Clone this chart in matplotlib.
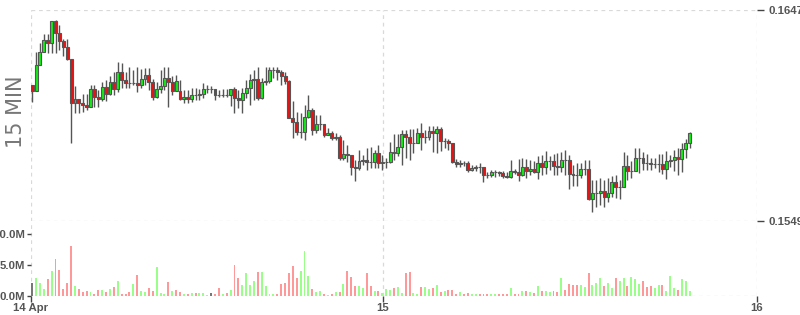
import numpy as np
import matplotlib.pyplot as plt

# 15 minute candles, 14 Apr .. 15 Apr
opens = [
    0.16121, 0.16093, 0.16214, 0.16274, 0.16330, 0.16316, 0.16418, 0.16363, 0.16326, 0.16298,
    0.16242, 0.16038, 0.16056, 0.16038, 0.16028, 0.16019, 0.16103, 0.16065, 0.16056, 0.16112,
    0.16079, 0.16135, 0.16103, 0.16182, 0.16144, 0.16130, 0.16130, 0.16130, 0.16121, 0.16149,
    0.16168, 0.16135, 0.16065, 0.16103, 0.16117, 0.16154, 0.16135, 0.16093, 0.16093, 0.16056,
    0.16065, 0.16056, 0.16075, 0.16075, 0.16079, 0.16103, 0.16103, 0.16103, 0.16075, 0.16075,
    0.16075, 0.16075, 0.16103, 0.16061, 0.16052, 0.16084, 0.16107, 0.16144, 0.16149, 0.16061,
    0.16135, 0.16140, 0.16191, 0.16191, 0.16182, 0.16163, 0.16140, 0.15968, 0.15949, 0.15903,
    0.15903, 0.15973, 0.16005, 0.15912, 0.15940, 0.15940, 0.15889, 0.15898, 0.15875, 0.15880,
    0.15782, 0.15801, 0.15796, 0.15740, 0.15736, 0.15768, 0.15773, 0.15764, 0.15764, 0.15805,
    0.15759, 0.15764, 0.15764, 0.15810, 0.15805, 0.15833, 0.15894, 0.15880, 0.15852, 0.15852,
    0.15898, 0.15880, 0.15880, 0.15908, 0.15898, 0.15917, 0.15861, 0.15861, 0.15852, 0.15764,
    0.15754, 0.15759, 0.15759, 0.15726, 0.15736, 0.15740, 0.15740, 0.15703, 0.15703, 0.15717,
    0.15717, 0.15712, 0.15699, 0.15694, 0.15722, 0.15717, 0.15703, 0.15740, 0.15722, 0.15731,
    0.15717, 0.15759, 0.15740, 0.15768, 0.15768, 0.15745, 0.15740, 0.15773, 0.15773, 0.15708,
    0.15703, 0.15703, 0.15731, 0.15731, 0.15592, 0.15620, 0.15620, 0.15629, 0.15601, 0.15620,
    0.15671, 0.15647, 0.15647, 0.15745, 0.15722, 0.15722, 0.15782, 0.15782, 0.15759, 0.15759,
    0.15754, 0.15754, 0.15754, 0.15731, 0.15768, 0.15773, 0.15787, 0.15778, 0.15824, 0.15852,
]
closes = [
    0.16093, 0.16214, 0.16274, 0.16330, 0.16316, 0.16418, 0.16363, 0.16326, 0.16298, 0.16242,
    0.16038, 0.16056, 0.16038, 0.16028, 0.16019, 0.16103, 0.16065, 0.16056, 0.16112, 0.16079,
    0.16135, 0.16103, 0.16182, 0.16144, 0.16130, 0.16130, 0.16130, 0.16121, 0.16149, 0.16168,
    0.16135, 0.16065, 0.16103, 0.16117, 0.16154, 0.16135, 0.16093, 0.16140, 0.16056, 0.16065,
    0.16056, 0.16075, 0.16075, 0.16079, 0.16103, 0.16103, 0.16103, 0.16075, 0.16075, 0.16075,
    0.16075, 0.16103, 0.16061, 0.16052, 0.16084, 0.16107, 0.16144, 0.16149, 0.16061, 0.16135,
    0.16140, 0.16191, 0.16191, 0.16182, 0.16163, 0.16140, 0.15968, 0.15949, 0.15903, 0.15903,
    0.15973, 0.16005, 0.15912, 0.15940, 0.15940, 0.15889, 0.15898, 0.15875, 0.15880, 0.15782,
    0.15801, 0.15796, 0.15740, 0.15736, 0.15768, 0.15773, 0.15764, 0.15764, 0.15805, 0.15759,
    0.15764, 0.15764, 0.15810, 0.15805, 0.15833, 0.15894, 0.15880, 0.15852, 0.15852, 0.15898,
    0.15880, 0.15880, 0.15908, 0.15898, 0.15917, 0.15861, 0.15861, 0.15852, 0.15764, 0.15754,
    0.15759, 0.15759, 0.15726, 0.15736, 0.15740, 0.15740, 0.15703, 0.15703, 0.15717, 0.15717,
    0.15712, 0.15699, 0.15694, 0.15722, 0.15717, 0.15703, 0.15740, 0.15722, 0.15731, 0.15717,
    0.15759, 0.15740, 0.15768, 0.15768, 0.15745, 0.15740, 0.15773, 0.15773, 0.15708, 0.15703,
    0.15703, 0.15731, 0.15731, 0.15592, 0.15620, 0.15620, 0.15629, 0.15601, 0.15620, 0.15671,
    0.15647, 0.15647, 0.15745, 0.15722, 0.15722, 0.15782, 0.15782, 0.15759, 0.15759, 0.15754,
    0.15754, 0.15754, 0.15731, 0.15768, 0.15773, 0.15787, 0.15778, 0.15824, 0.15852, 0.15898,
]
highs = [
    0.16121, 0.16274, 0.16316, 0.16358, 0.16358, 0.16418, 0.16423, 0.16400, 0.16335, 0.16335,
    0.16242, 0.16117, 0.16056, 0.16079, 0.16079, 0.16121, 0.16121, 0.16098, 0.16135, 0.16144,
    0.16163, 0.16182, 0.16228, 0.16223, 0.16182, 0.16205, 0.16191, 0.16205, 0.16195, 0.16200,
    0.16200, 0.16149, 0.16135, 0.16191, 0.16205, 0.16205, 0.16163, 0.16168, 0.16144, 0.16098,
    0.16098, 0.16107, 0.16107, 0.16103, 0.16130, 0.16121, 0.16117, 0.16103, 0.16098, 0.16103,
    0.16103, 0.16103, 0.16112, 0.16098, 0.16107, 0.16144, 0.16172, 0.16191, 0.16205, 0.16154,
    0.16205, 0.16205, 0.16205, 0.16205, 0.16191, 0.16182, 0.16144, 0.16047, 0.15996, 0.15991,
    0.16028, 0.16075, 0.16014, 0.15982, 0.15982, 0.15940, 0.15922, 0.15908, 0.15898, 0.15889,
    0.15866, 0.15843, 0.15796, 0.15773, 0.15819, 0.15796, 0.15829, 0.15833, 0.15819, 0.15843,
    0.15796, 0.15782, 0.15856, 0.15894, 0.15894, 0.15912, 0.15912, 0.15917, 0.15917, 0.15922,
    0.15945, 0.15912, 0.15931, 0.15931, 0.15931, 0.15926, 0.15875, 0.15870, 0.15852, 0.15778,
    0.15773, 0.15768, 0.15768, 0.15750, 0.15750, 0.15759, 0.15740, 0.15717, 0.15726, 0.15726,
    0.15722, 0.15722, 0.15717, 0.15773, 0.15731, 0.15778, 0.15782, 0.15778, 0.15773, 0.15768,
    0.15791, 0.15796, 0.15815, 0.15791, 0.15801, 0.15805, 0.15810, 0.15819, 0.15796, 0.15750,
    0.15759, 0.15759, 0.15773, 0.15773, 0.15680, 0.15680, 0.15689, 0.15680, 0.15689, 0.15699,
    0.15703, 0.15680, 0.15810, 0.15796, 0.15768, 0.15829, 0.15829, 0.15810, 0.15801, 0.15782,
    0.15782, 0.15801, 0.15801, 0.15815, 0.15796, 0.15819, 0.15829, 0.15852, 0.15870, 0.15903,
]
lows = [
    0.16042, 0.16093, 0.16214, 0.16274, 0.16270, 0.16270, 0.16270, 0.16284, 0.16256, 0.16237,
    0.15852, 0.15991, 0.15991, 0.15996, 0.16005, 0.16019, 0.16019, 0.16019, 0.16047, 0.16047,
    0.16075, 0.16075, 0.16089, 0.16107, 0.16107, 0.16107, 0.16121, 0.16089, 0.16107, 0.16121,
    0.16098, 0.16052, 0.16061, 0.16084, 0.16098, 0.16019, 0.16075, 0.16093, 0.16052, 0.16038,
    0.16038, 0.16042, 0.16052, 0.16052, 0.16061, 0.16084, 0.16084, 0.16052, 0.16065, 0.16065,
    0.16065, 0.16024, 0.15991, 0.16014, 0.15991, 0.16061, 0.16028, 0.16052, 0.16052, 0.16056,
    0.16121, 0.16130, 0.16154, 0.16144, 0.16121, 0.16126, 0.15968, 0.15875, 0.15889, 0.15875,
    0.15866, 0.15968, 0.15889, 0.15898, 0.15912, 0.15880, 0.15889, 0.15866, 0.15866, 0.15773,
    0.15773, 0.15764, 0.15703, 0.15675, 0.15726, 0.15750, 0.15726, 0.15736, 0.15736, 0.15736,
    0.15726, 0.15736, 0.15759, 0.15773, 0.15791, 0.15750, 0.15782, 0.15773, 0.15805, 0.15852,
    0.15819, 0.15852, 0.15866, 0.15810, 0.15805, 0.15815, 0.15829, 0.15819, 0.15759, 0.15740,
    0.15740, 0.15745, 0.15717, 0.15722, 0.15722, 0.15712, 0.15671, 0.15689, 0.15694, 0.15694,
    0.15699, 0.15689, 0.15689, 0.15689, 0.15708, 0.15675, 0.15699, 0.15689, 0.15703, 0.15712,
    0.15685, 0.15703, 0.15708, 0.15726, 0.15703, 0.15703, 0.15717, 0.15703, 0.15638, 0.15652,
    0.15652, 0.15689, 0.15703, 0.15587, 0.15531, 0.15555, 0.15564, 0.15555, 0.15578, 0.15601,
    0.15596, 0.15592, 0.15647, 0.15680, 0.15689, 0.15722, 0.15712, 0.15726, 0.15726, 0.15726,
    0.15736, 0.15717, 0.15708, 0.15685, 0.15740, 0.15722, 0.15703, 0.15717, 0.15782, 0.15829,
]
# volume in millions, with the direction used to colour each bar
volumes = [
    2.1, 2.95, 2.15, 1.2, 2.7, 4.0, 6.0, 4.2, 1.2, 2.15,
    8.1, 1.6, 1.1, 0.7, 0.8, 0.7, 0.3, 1.0, 1.0, 0.7,
    1.1, 1.45, 2.4, 0.3, 0.3, 0.7, 2.0, 3.4, 0.85, 0.7,
    1.3, 0.8, 4.7, 0.5, 0.4, 2.25, 0.85, 1.0, 0.65, 0.3,
    0.3, 0.5, 0.5, 0.5, 0.5, 0.15, 0.5, 0.3, 1.3, 0.3,
    0.5, 1.0, 5.0, 2.9, 1.8, 3.7, 1.8, 2.4, 3.9, 3.9,
    1.6, 0.3, 0.3, 0.3, 1.9, 2.1, 3.7, 4.8, 2.9, 4.0,
    7.3, 3.2, 1.1, 0.65, 0.8, 0.3, 0.15, 0.3, 0.65, 0.65,
    1.9, 4.0, 3.1, 1.6, 1.6, 1.3, 3.7, 1.6, 0.8, 0.8,
    0.5, 1.1, 1.0, 1.3, 1.45, 0.5, 3.7, 3.9, 0.5, 0.3,
    1.45, 1.45, 1.1, 1.3, 1.8, 0.65, 0.8, 1.0, 1.0, 0.3,
    0.65, 0.3, 0.5, 0.3, 0.3, 0.3, 0.3, 0.3, 0.3, 0.3,
    0.3, 0.3, 0.3, 1.3, 0.3, 0.3, 0.8, 0.8, 0.65, 0.5,
    1.6, 0.8, 0.8, 0.65, 0.8, 0.65, 2.9, 1.0, 1.9, 1.8,
    1.8, 1.8, 1.45, 3.7, 1.8, 2.1, 2.9, 1.6, 2.1, 1.3,
    2.9, 2.4, 2.9, 1.6, 3.1, 2.7, 1.9, 2.4, 1.45, 1.6,
    1.3, 1.8, 1.8, 0.8, 3.2, 1.3, 1.0, 2.7, 2.4, 0.8,
]
vol_dir = ("ngggrgrrrr" "rgrrrgrrgr" "grgrrrgrgg" "rrgggrgrrg" "rgrgggnrrg"
           "rgrrggggrg" "gggrrrrrrg" "ggrggrgrgr" "grrrggrrgr" "gggrggrrgg"
           "rggrgrgrrr" "grrggrrrgg" "rrrgrrgrgr" "grggrrgrrr" "rggrgggrgg"
           "rggrgggrrr" "ggrgggrggg")

day_pos = [-0.3, 90.2, 186.3]
day_labels = ["14 Apr", "15", "16"]
price_ticks = [0.1549, 0.1647]
vol_ticks = [0, 5, 10]

o = np.array(opens)
c = np.array(closes)
x = np.arange(len(c))

lab_font = dict(family="Liberation Sans", weight="bold", size=8.2)

fig = plt.figure(figsize=(8, 3.15), dpi=100)
ax = fig.add_axes([31 / 800, 94 / 315, 726 / 800, 211 / 315])
axv = fig.add_axes([31 / 800, 19 / 315, 726 / 800, 75 / 315], sharex=ax)

grid_kw = dict(color="#d9d9d9", lw=0.9, ls=(0, (3, 3)), zorder=0)

# candles
ax.vlines(x, lows, highs, color="#555555", lw=1.0, zorder=1)
body_col = np.where(c > o, "#11ee11", "#ee1111")
ax.bar(x, np.abs(c - o), bottom=np.minimum(o, c), width=0.75,
       color=body_col, edgecolor="#555555", linewidth=0.8, zorder=2)

ax.set_xlim(-0.3, 186.3)
ax.set_ylim(price_ticks[0], price_ticks[1])
for d in day_pos:
    ax.axvline(d, **grid_kw)
ax.axhline(price_ticks[1], **grid_kw)
ax.axhline(price_ticks[0], **grid_kw)
for s in ax.spines.values():
    s.set_visible(False)
ax.yaxis.tick_right()
ax.set_yticks(price_ticks)
ax.set_yticklabels(["%.4f" % p for p in price_ticks], color="#555555", **lab_font)
ax.tick_params(axis="y", length=5, width=1, color="#444444", pad=3)
ax.tick_params(axis="x", bottom=False, labelbottom=False)

# volume
vcol = {"g": "#99ff88", "r": "#ff9999", "n": "#777777"}
axv.bar(x, volumes, width=0.5, color=[vcol[d] for d in vol_dir], zorder=2)
axv.set_ylim(0, 12.1)
for d in day_pos:
    axv.axvline(d, **grid_kw)
axv.axhline(0, **grid_kw)
for s in axv.spines.values():
    s.set_visible(False)
axv.set_yticks(vol_ticks)
axv.set_yticklabels(["%.1fM" % v for v in vol_ticks], color="#555555", **lab_font)
axv.tick_params(axis="y", length=3, width=1, color="#444444", pad=1)
axv.set_xticks(day_pos)
axv.set_xticklabels(day_labels, color="#555555", **lab_font)
axv.tick_params(axis="x", length=4, width=1, color="#444444", pad=1)

fig.text(16 / 800, 1 - 112 / 315, "15 MIN", rotation=90, fontsize=15,
         color="#777777", ha="center", va="center")

fig.savefig("out.png", dpi=100)
